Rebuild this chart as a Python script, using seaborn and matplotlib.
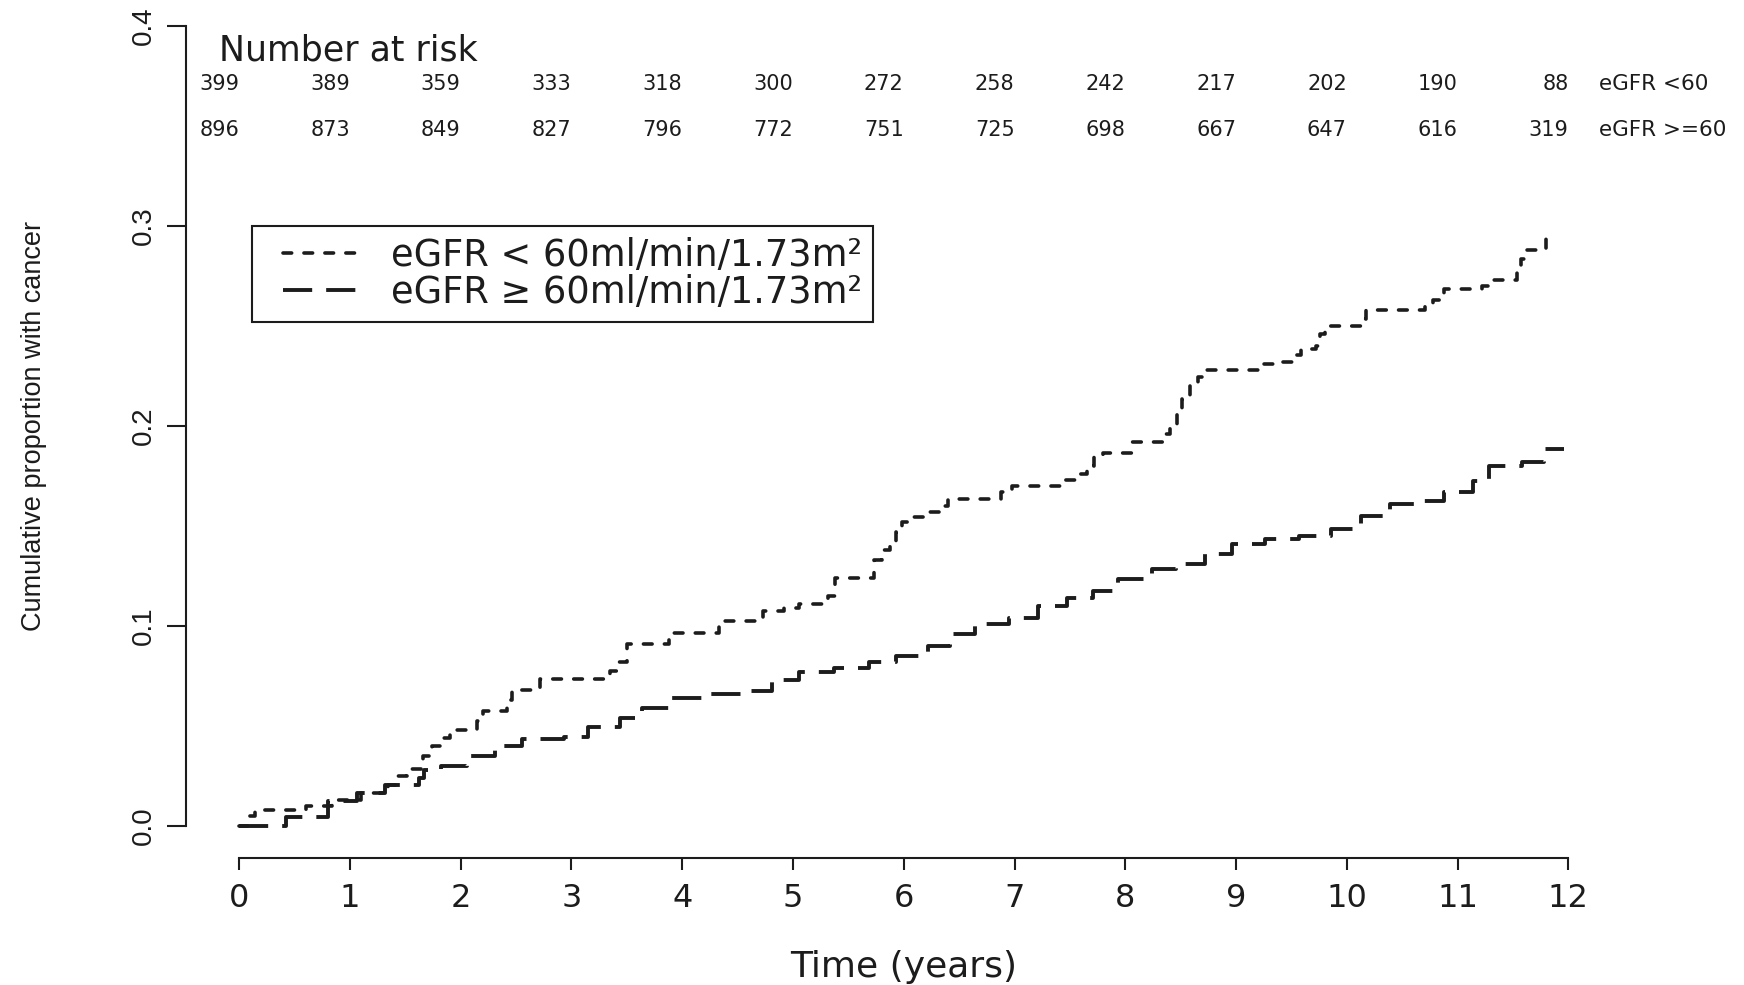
import numpy as np
import pandas as pd
import matplotlib
matplotlib.use("Agg")
import matplotlib.pyplot as plt
import seaborn as sns
from matplotlib import font_manager
from matplotlib.lines import Line2D
from matplotlib.legend_handler import HandlerLine2D

# ---------------- data ----------------
t_low = [0.0, 0.09, 0.14, 0.6, 0.84, 1.1, 1.34, 1.42, 1.52, 1.66, 1.74, 1.82, 1.9,
         2.15, 2.2, 2.42, 2.46, 2.72, 3.35, 3.43, 3.5, 3.88, 4.33, 4.73, 4.92, 5.05,
         5.32, 5.38, 5.73, 5.8, 5.88, 5.93, 5.98, 6.06, 6.22, 6.33, 6.4, 6.88, 6.98,
         7.41, 7.55, 7.65, 7.72, 7.8, 8.06, 8.34, 8.4, 8.47, 8.51, 8.58, 8.66, 8.74,
         9.24, 9.38, 9.53, 9.59, 9.72, 9.76, 9.8, 10.13, 10.17, 10.71, 10.78, 10.88,
         11.22, 11.3, 11.54, 11.57, 11.6, 11.8, 11.86]
v_low = [0.0, 0.005, 0.008, 0.010, 0.013, 0.0167, 0.0207, 0.025, 0.0286, 0.035, 0.040,
         0.044, 0.048, 0.0525, 0.0575, 0.063, 0.068, 0.0733, 0.0775, 0.082, 0.0909,
         0.0967, 0.1025, 0.1075, 0.109, 0.111, 0.115, 0.124, 0.133, 0.138, 0.142,
         0.147, 0.152, 0.1545, 0.157, 0.160, 0.1635, 0.167, 0.170, 0.173, 0.176,
         0.180, 0.1845, 0.1865, 0.192, 0.196, 0.200, 0.207, 0.2136, 0.220, 0.2246,
         0.2278, 0.231, 0.232, 0.2353, 0.2386, 0.240, 0.246, 0.250, 0.2536, 0.2578,
         0.260, 0.263, 0.2687, 0.270, 0.273, 0.278, 0.2837, 0.288, 0.2945, 0.2945]

t_high = [0.0, 0.42, 0.8, 1.06, 1.32, 1.62, 1.67, 1.82, 2.06, 2.31, 2.55, 2.93, 3.15,
          3.44, 3.64, 3.88, 4.24, 4.57, 4.81, 5.05, 5.37, 5.69, 5.93, 6.22, 6.42,
          6.64, 6.95, 7.21, 7.47, 7.71, 7.93, 8.24, 8.46, 8.72, 8.96, 9.26, 9.57,
          9.86, 10.13, 10.39, 10.63, 10.88, 11.14, 11.28, 11.58, 11.78, 11.96]
v_high = [0.0, 0.0045, 0.0124, 0.0166, 0.0207, 0.024, 0.028, 0.030, 0.0349, 0.040,
          0.0436, 0.0446, 0.0496, 0.054, 0.059, 0.064, 0.0658, 0.0675, 0.073, 0.077,
          0.079, 0.082, 0.085, 0.090, 0.0959, 0.1009, 0.1042, 0.110, 0.1142, 0.1176,
          0.1234, 0.1284, 0.131, 0.136, 0.141, 0.1435, 0.145, 0.1485, 0.155, 0.161,
          0.1626, 0.1668, 0.1726, 0.180, 0.182, 0.1885, 0.1885]

risk_times = [0, 1, 2, 3, 4, 5, 6, 7, 8, 9, 10, 11, 12]
risk_low = [399, 389, 359, 333, 318, 300, 272, 258, 242, 217, 202, 190, 88]
risk_high = [896, 873, 849, 827, 796, 772, 751, 725, 698, 667, 647, 616, 319]
row_labels = ["eGFR <60", "eGFR >=60"]
legend_labels = ["eGFR < 60ml/min/1.73m²", "eGFR ≥ 60ml/min/1.73m²"]
x_ticks = [0, 1, 2, 3, 4, 5, 6, 7, 8, 9, 10, 11, 12]
y_ticks = [0.0, 0.1, 0.2, 0.3, 0.4]
y_tick_labels = ["0.0", "0.1", "0.2", "0.3", "0.4"]

# ---------------- style ----------------
sns.set_style("ticks")
plt.rcParams['font.family'] = ['DejaVu Sans']
names = {f.name for f in font_manager.fontManager.ttflist}
narrow = 'Liberation Sans Narrow' if 'Liberation Sans Narrow' in names else 'Liberation Sans'
ink = '#1c1c1c'

fig = plt.figure(figsize=(17.44, 9.85), dpi=100)
ax = fig.add_axes([0.1066, 0.1289, 0.8232, 0.8772])

df_low = pd.DataFrame({'time': t_low, 'cum': v_low})
df_high = pd.DataFrame({'time': t_high, 'cum': v_high})

sns.lineplot(data=df_low, x='time', y='cum', ax=ax, drawstyle='steps-post',
             estimator=None, color=ink, linewidth=2.6,
             linestyle=(0, (2.4, 3.4)), dash_capstyle='round')
sns.lineplot(data=df_high, x='time', y='cum', ax=ax, drawstyle='steps-post',
             estimator=None, color=ink, linewidth=2.8,
             linestyle=(0, (7.5, 3.6)), dash_capstyle='butt')

ax.set_xlim(-0.48, 12.48)
ax.set_ylim(-0.016, 0.416)

for s in ['top', 'right']:
    ax.spines[s].set_visible(False)
ax.spines['left'].set_bounds(0, 0.4)
ax.spines['bottom'].set_bounds(0, 12)
for s in ['left', 'bottom']:
    ax.spines[s].set_linewidth(1.5)
    ax.spines[s].set_color(ink)

ax.set_xticks(x_ticks)
ax.set_xticklabels([str(v) for v in x_ticks])
ax.set_yticks(y_ticks)
ax.set_yticklabels(y_tick_labels, rotation=90, va='center', family=narrow, fontsize=20)
ax.tick_params(axis='both', direction='out', width=1.5, color=ink, labelcolor=ink)
ax.tick_params(axis='x', length=8.3, labelsize=23, pad=10)
ax.tick_params(axis='y', length=14, pad=7)

ax.set_xlabel('Time (years)', fontsize=26, color=ink)
ax.xaxis.set_label_coords(0.5, -0.126)
ax.xaxis.label.set_va('center')
ax.set_ylabel('Cumulative proportion with cancer', family=narrow, fontsize=19.5, color=ink)
ax.yaxis.set_label_coords(-0.106, 0.5)
ax.yaxis.label.set_va('center')

# numbers at risk
ax.text(-0.18, 0.3878, 'Number at risk', ha='left', va='center', fontsize=25, color=ink)
for t, n in zip(risk_times, risk_low):
    ax.text(t, 0.3711, str(n), ha='right', va='center', fontsize=15, color=ink)
for t, n in zip(risk_times, risk_high):
    ax.text(t, 0.3481, str(n), ha='right', va='center', fontsize=15, color=ink)
ax.text(12.28, 0.3711, row_labels[0], ha='left', va='center', fontsize=15.5, color=ink)
ax.text(12.28, 0.3481, row_labels[1], ha='left', va='center', fontsize=15.5, color=ink)

lines = ax.get_lines()[:2]
leg = ax.legend(handles=lines, labels=legend_labels, loc='upper left',
                bbox_to_anchor=(252 / 1744, 1 - 226 / 985), bbox_transform=fig.transFigure,
                borderaxespad=0, fontsize=26.5, frameon=True, fancybox=False,
                edgecolor=ink, framealpha=1, handlelength=2.68, handletextpad=0.8,
                labelspacing=0.0, borderpad=0.3,
                handler_map={Line2D: HandlerLine2D(xpad=0.55)})
leg.get_frame().set_linewidth(1.5)
for txt in leg.get_texts():
    txt.set_color(ink)

fig.savefig('out.png', dpi=100)
